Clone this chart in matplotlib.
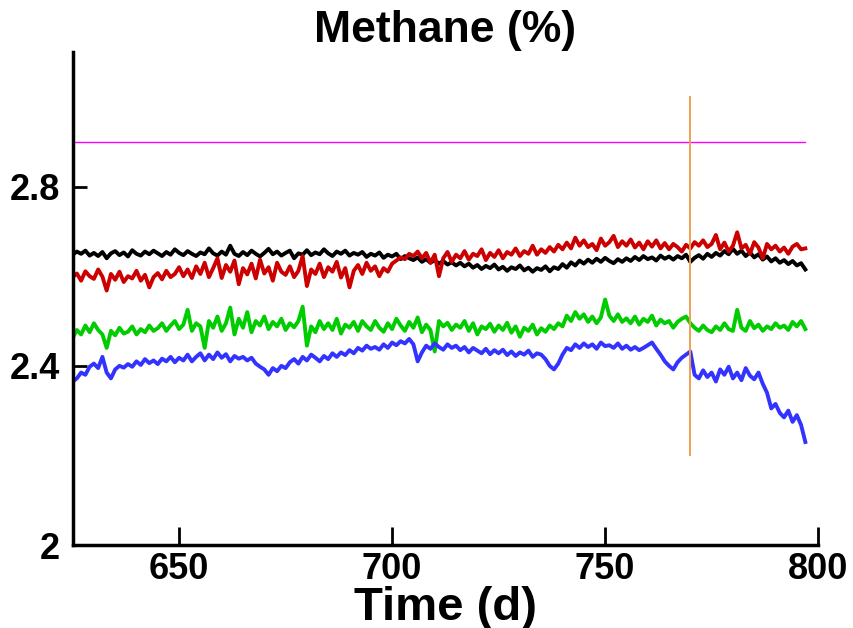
import numpy as np
import matplotlib
matplotlib.use("Agg")
import matplotlib.pyplot as plt

plt.rcParams['font.family'] = ['Liberation Sans', 'DejaVu Sans']
plt.rcParams['font.weight'] = 'bold'

# days 625..797, one reading per day
start_day = 625
black_vals = [
    2.648, 2.655, 2.650, 2.657, 2.646, 2.652, 2.645, 2.654, 2.640, 2.651,
    2.656, 2.647, 2.653, 2.644, 2.658, 2.650, 2.646, 2.655, 2.649, 2.657,
    2.651, 2.645, 2.654, 2.648, 2.660, 2.652, 2.647, 2.656, 2.650, 2.645,
    2.653, 2.649, 2.662, 2.651, 2.646, 2.655, 2.648, 2.668, 2.650, 2.645,
    2.654, 2.647, 2.657, 2.650, 2.644, 2.652, 2.661, 2.649, 2.655, 2.646,
    2.652, 2.657, 2.640, 2.651, 2.648, 2.658, 2.647, 2.653, 2.649, 2.660,
    2.651, 2.645, 2.655, 2.650, 2.657, 2.646, 2.652, 2.648, 2.654, 2.643,
    2.650, 2.646, 2.653, 2.641, 2.648, 2.644, 2.650, 2.638, 2.645, 2.640,
    2.636, 2.642, 2.632, 2.638, 2.630, 2.636, 2.628, 2.634, 2.626, 2.631,
    2.624, 2.630, 2.622, 2.628, 2.619, 2.625, 2.616, 2.623, 2.618, 2.626,
    2.615, 2.621, 2.612, 2.620, 2.616, 2.624, 2.613, 2.619, 2.610, 2.618,
    2.614, 2.622, 2.611, 2.620, 2.616, 2.627, 2.619, 2.631, 2.624, 2.635,
    2.628, 2.637, 2.630, 2.639, 2.632, 2.641, 2.634, 2.629, 2.638, 2.632,
    2.640, 2.634, 2.643, 2.636, 2.645, 2.638, 2.642, 2.635, 2.646, 2.639,
    2.644, 2.637, 2.645, 2.640, 2.648, 2.632, 2.641, 2.647, 2.639, 2.650,
    2.643, 2.652, 2.646, 2.656, 2.649, 2.661, 2.650, 2.657, 2.645, 2.653,
    2.642, 2.649, 2.637, 2.644, 2.633, 2.640, 2.630, 2.636, 2.627, 2.634,
    2.624, 2.629, 2.615,
]
red_vals = [
    2.598, 2.606, 2.590, 2.611, 2.600, 2.594, 2.615, 2.599, 2.568, 2.605,
    2.592, 2.610, 2.587, 2.600, 2.595, 2.612, 2.590, 2.603, 2.575, 2.598,
    2.607, 2.593, 2.612, 2.598, 2.605, 2.620, 2.600, 2.615, 2.596, 2.622,
    2.605, 2.630, 2.598, 2.618, 2.640, 2.596, 2.625, 2.610, 2.635, 2.582,
    2.618, 2.604, 2.628, 2.595, 2.637, 2.606, 2.620, 2.590, 2.630, 2.610,
    2.603, 2.622, 2.598, 2.612, 2.645, 2.578, 2.615, 2.605, 2.628, 2.598,
    2.620, 2.610, 2.632, 2.597, 2.618, 2.575, 2.612, 2.625, 2.605, 2.630,
    2.612, 2.622, 2.600, 2.618, 2.610, 2.628, 2.635, 2.642, 2.638, 2.650,
    2.645, 2.655, 2.640, 2.652, 2.630, 2.648, 2.600, 2.640, 2.654, 2.632,
    2.648, 2.640, 2.656, 2.637, 2.650, 2.645, 2.660, 2.636, 2.652, 2.643,
    2.658, 2.640, 2.654, 2.648, 2.662, 2.645, 2.656, 2.650, 2.668, 2.648,
    2.660, 2.652, 2.665, 2.655, 2.670, 2.660, 2.675, 2.662, 2.686, 2.668,
    2.680, 2.665, 2.672, 2.658, 2.684, 2.668, 2.676, 2.690, 2.665, 2.678,
    2.668, 2.682, 2.664, 2.675, 2.660, 2.678, 2.666, 2.680, 2.662, 2.674,
    2.660, 2.672, 2.665, 2.655, 2.670, 2.662, 2.676, 2.668, 2.680, 2.665,
    2.672, 2.692, 2.660, 2.675, 2.655, 2.668, 2.698, 2.662, 2.670, 2.650,
    2.676, 2.664, 2.640, 2.672, 2.660, 2.668, 2.655, 2.664, 2.650, 2.666,
    2.672, 2.660, 2.662,
]
green_vals = [
    2.462, 2.480, 2.470, 2.490, 2.475, 2.495, 2.480, 2.470, 2.440, 2.478,
    2.468, 2.485, 2.472, 2.476, 2.488, 2.470, 2.482, 2.475, 2.490, 2.478,
    2.484, 2.495, 2.478, 2.490, 2.500, 2.482, 2.492, 2.525, 2.478, 2.495,
    2.488, 2.440, 2.500, 2.485, 2.510, 2.478, 2.495, 2.530, 2.470, 2.505,
    2.485, 2.520, 2.475, 2.500, 2.490, 2.510, 2.482, 2.498, 2.488, 2.505,
    2.480, 2.495, 2.486, 2.500, 2.532, 2.445, 2.488, 2.475, 2.500, 2.482,
    2.495, 2.480, 2.505, 2.472, 2.492, 2.485, 2.498, 2.478, 2.500, 2.488,
    2.480, 2.500, 2.485, 2.476, 2.495, 2.482, 2.505, 2.490, 2.478, 2.498,
    2.485, 2.508, 2.475, 2.492, 2.480, 2.432, 2.500, 2.488, 2.496, 2.480,
    2.492, 2.485, 2.500, 2.478, 2.495, 2.470, 2.488, 2.482, 2.494, 2.476,
    2.490, 2.480, 2.496, 2.474, 2.488, 2.465, 2.485, 2.478, 2.492, 2.470,
    2.484, 2.476, 2.490, 2.482, 2.495, 2.488, 2.512, 2.500, 2.520, 2.505,
    2.515, 2.498, 2.510, 2.495, 2.508, 2.548, 2.512, 2.500, 2.515, 2.498,
    2.506, 2.495, 2.510, 2.492, 2.505, 2.498, 2.512, 2.490, 2.503, 2.495,
    2.500, 2.485, 2.498, 2.505, 2.510, 2.495, 2.485, 2.478, 2.490, 2.480,
    2.475, 2.488, 2.480, 2.495, 2.482, 2.478, 2.525, 2.485, 2.478, 2.500,
    2.484, 2.492, 2.478, 2.488, 2.482, 2.495, 2.485, 2.490, 2.480, 2.498,
    2.488, 2.500, 2.482,
]
blue_vals = [
    2.365, 2.372, 2.385, 2.380, 2.398, 2.405, 2.395, 2.420, 2.385, 2.372,
    2.392, 2.400, 2.396, 2.404, 2.398, 2.410, 2.402, 2.415, 2.406, 2.412,
    2.404, 2.416, 2.410, 2.420, 2.408, 2.418, 2.412, 2.425, 2.410, 2.420,
    2.428, 2.412, 2.425, 2.415, 2.430, 2.418, 2.426, 2.410, 2.422, 2.416,
    2.420, 2.412, 2.418, 2.405, 2.398, 2.392, 2.380, 2.395, 2.388, 2.400,
    2.395, 2.408, 2.415, 2.405, 2.420, 2.412, 2.425, 2.418, 2.410, 2.422,
    2.415, 2.428, 2.420, 2.430, 2.424, 2.435, 2.428, 2.440, 2.434, 2.445,
    2.438, 2.442, 2.436, 2.448, 2.440, 2.452, 2.446, 2.455, 2.450, 2.460,
    2.448, 2.410, 2.430, 2.445, 2.438, 2.450, 2.442, 2.436, 2.448, 2.440,
    2.445, 2.435, 2.442, 2.430, 2.440, 2.434, 2.428, 2.438, 2.426, 2.435,
    2.428, 2.436, 2.424, 2.432, 2.422, 2.430, 2.425, 2.434, 2.420, 2.428,
    2.425, 2.415, 2.400, 2.392, 2.405, 2.425, 2.440, 2.435, 2.448, 2.440,
    2.450, 2.442, 2.448, 2.438, 2.452, 2.444, 2.446, 2.440, 2.450, 2.438,
    2.445, 2.436, 2.442, 2.435, 2.440, 2.446, 2.452, 2.438, 2.425, 2.410,
    2.400, 2.392, 2.408, 2.418, 2.425, 2.432, 2.380, 2.372, 2.390, 2.375,
    2.385, 2.365, 2.392, 2.380, 2.398, 2.372, 2.385, 2.368, 2.395, 2.378,
    2.370, 2.385, 2.360, 2.340, 2.305, 2.315, 2.295, 2.285, 2.300, 2.275,
    2.290, 2.268, 2.230,
]
days = np.arange(start_day, start_day + len(black_vals))

threshold = 2.9
event_day = 770
event_low, event_high = 2.2, 3.0

xticks = [650, 700, 750, 800]
yticks = [2.0, 2.4, 2.8]
ytick_labels = ['2', '2.4', '2.8']

fig = plt.figure(figsize=(8.54, 6.28), dpi=100)
ax = fig.add_axes([0.085, 0.132, 0.873, 0.785])

lw = 2.8
ax.plot(days, black_vals, color='black', lw=lw)
ax.plot(days, red_vals, color='#cc0000', lw=lw)
ax.plot(days, green_vals, color='#00cc00', lw=lw)
ax.plot(days, blue_vals, color='#3333ff', lw=lw)
ax.plot([days[0], days[-1]], [threshold, threshold], color='#ff00ff', lw=1.0)
ax.plot([event_day, event_day], [event_low, event_high], color='#f0a050', lw=1.4)

ax.set_xlim(625, 800)
ax.set_ylim(2.0, 3.1)
ax.set_xticks(xticks)
ax.set_yticks(yticks)
ax.set_yticklabels(ytick_labels)
for s in ['top', 'right']:
    ax.spines[s].set_visible(False)
for s in ['left', 'bottom']:
    ax.spines[s].set_linewidth(2.5)
ax.tick_params(axis='x', direction='in', length=13, width=2, labelsize=26, pad=5)
ax.tick_params(axis='y', direction='in', length=10, width=2, labelsize=26, pad=9)

ax.set_xlabel('Time (d)', fontsize=34, fontweight='bold', labelpad=-1)
ax.set_title('Methane (%)', fontsize=32, fontweight='bold', pad=7)

fig.savefig('out.png', dpi=100)
